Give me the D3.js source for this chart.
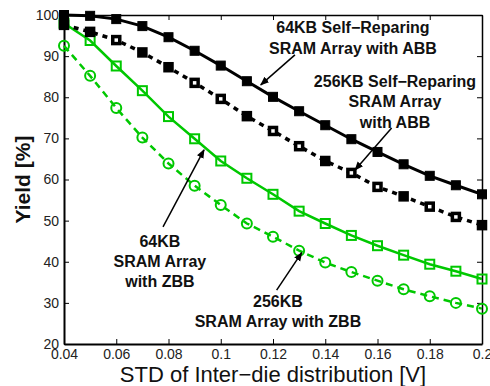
<!DOCTYPE html>
<html>
<head>
<meta charset="utf-8">
<script src="https://cdn.jsdelivr.net/npm/d3@7"></script>
<style>
  html, body { margin: 0; padding: 0; background: #fff; }
  svg { display: block; font-family: "Liberation Sans", Arial, Helvetica, sans-serif; }
</style>
</head>
<body>
<svg id="chart" width="490" height="386"></svg>
<script>
// Standard deviation of inter-die variation [V]
const stdValues = [0.04, 0.05, 0.06, 0.07, 0.08, 0.09, 0.10, 0.11, 0.12,
                   0.13, 0.14, 0.15, 0.16, 0.17, 0.18, 0.19, 0.20];

// Yield [%] per configuration
const yield64ABB  = [100, 99.8, 99.0, 97.3, 94.6, 91.3, 87.7, 83.9, 80.1,
                     76.6, 73.2, 69.8, 66.7, 63.7, 60.9, 58.6, 56.4];
const yield256ABB = [97.6, 95.9, 93.9, 90.9, 87.3, 83.5, 79.6, 75.4, 71.8,
                     68.1, 64.5, 61.6, 58.2, 55.9, 53.4, 50.9, 48.9];
const yield64ZBB  = [98.0, 93.8, 87.6, 81.6, 75.3, 69.9, 64.5, 60.3, 56.4,
                     52.3, 49.3, 46.4, 43.9, 41.6, 39.4, 37.7, 35.8];
const yield256ZBB = [92.5, 85.2, 77.4, 70.2, 63.9, 58.5, 53.8, 49.3, 46.1,
                     42.7, 39.8, 37.5, 35.4, 33.3, 31.6, 30.0, 28.6];

const xTicks = [0.04, 0.06, 0.08, 0.1, 0.12, 0.14, 0.16, 0.18, 0.2];
const yTicks = [20, 30, 40, 50, 60, 70, 80, 90, 100];

const GREEN = "#00c800";

const svg = d3.select("#chart");
const margin = { left: 64, right: 8, top: 15, bottom: 42 };
const W = 490, H = 386;

const x = d3.scaleLinear().domain([0.04, 0.2]).range([margin.left, W - margin.right]);
const y = d3.scaleLinear().domain([20, 100]).range([H - margin.bottom, margin.top]);

const fmt = d => String(+d.toFixed(2));

// Arrowhead marker
svg.append("defs").append("marker")
  .attr("id", "arrow")
  .attr("viewBox", "0 0 10 10")
  .attr("refX", 9).attr("refY", 5)
  .attr("markerWidth", 9).attr("markerHeight", 9)
  .attr("markerUnits", "userSpaceOnUse")
  .attr("orient", "auto")
  .append("path").attr("d", "M0,1 L10,5 L0,9 Z").attr("fill", "#000");

// Axes (ticks pointing inward, box on all sides)
const tickLen = 5;
const gx = svg.append("g").attr("transform", `translate(0,${y(20)})`)
  .call(d3.axisBottom(x).tickValues(xTicks).tickFormat(fmt).tickSizeInner(-tickLen).tickSizeOuter(0).tickPadding(5));
const gy = svg.append("g").attr("transform", `translate(${x(0.04)},0)`)
  .call(d3.axisLeft(y).tickValues(yTicks).tickSizeInner(-tickLen).tickSizeOuter(0).tickPadding(5));
const gxt = svg.append("g").attr("transform", `translate(0,${y(100)})`)
  .call(d3.axisTop(x).tickValues(xTicks).tickFormat("").tickSizeInner(-tickLen).tickSizeOuter(0));
const gyr = svg.append("g").attr("transform", `translate(${x(0.2)},0)`)
  .call(d3.axisRight(y).tickValues(yTicks).tickFormat("").tickSizeInner(-tickLen).tickSizeOuter(0));

[gx, gy].forEach(g => {
  g.select(".domain").attr("stroke", "#000").attr("stroke-width", 2);
  g.selectAll(".tick line").attr("stroke", "#000").attr("stroke-width", 1);
  g.selectAll(".tick text").attr("fill", "#222").attr("font-size", 14);
});
[gxt, gyr].forEach(g => {
  g.select(".domain").attr("stroke", "#000").attr("stroke-width", 1.5);
  g.selectAll(".tick line").attr("stroke", "#000").attr("stroke-width", 1);
});

// Series
const series = [
  { values: yield64ZBB,  color: GREEN, width: 2.5, dash: null,  marker: "hsquare" },
  { values: yield256ZBB, color: GREEN, width: 2.5, dash: "7,5", marker: "circle" },
  { values: yield256ABB, color: "#000", width: 3.5, dash: "5,5", marker: "dsquare" },
  { values: yield64ABB,  color: "#000", width: 3,   dash: null,  marker: "fsquare" }
];

const line = d3.line().x(d => x(d[0])).y(d => y(d[1]));

// dotted-edge squares: where the dash pattern falls on a gap the marker keeps a small open centre
const solidDotted = new Set([0, 1, 3, 4, 7, 10, 13, 16]);

series.forEach(s => {
  const pts = stdValues.map((v, i) => [v, s.values[i]]);
  svg.append("path")
    .datum(pts)
    .attr("d", line)
    .attr("fill", "none")
    .attr("stroke", s.color)
    .attr("stroke-width", s.width)
    .attr("stroke-dasharray", s.dash);

  const g = svg.append("g");
  if (s.marker === "circle") {
    g.selectAll("circle").data(pts).join("circle")
      .attr("cx", d => x(d[0])).attr("cy", d => y(d[1])).attr("r", 5)
      .attr("fill", "none").attr("stroke", s.color).attr("stroke-width", 2);
  } else if (s.marker === "hsquare") {
    g.selectAll("rect").data(pts).join("rect")
      .attr("x", d => x(d[0]) - 4.5).attr("y", d => y(d[1]) - 4.5)
      .attr("width", 9).attr("height", 9)
      .attr("fill", "none").attr("stroke", s.color).attr("stroke-width", 2);
  } else if (s.marker === "dsquare") {
    g.selectAll("rect").data(pts).join("rect")
      .attr("x", d => x(d[0]) - 3.5).attr("y", d => y(d[1]) - 3.5)
      .attr("width", 7).attr("height", 7)
      .attr("fill", (d, i) => solidDotted.has(i) ? s.color : "#fff")
      .attr("stroke", s.color).attr("stroke-width", 3.5);
  } else {
    g.selectAll("rect").data(pts).join("rect")
      .attr("x", d => x(d[0]) - 4.5).attr("y", d => y(d[1]) - 4.5)
      .attr("width", 9).attr("height", 9)
      .attr("fill", s.color).attr("stroke", s.color).attr("stroke-width", 1);
  }
});

// Annotations (positions in data units)
const notes = [
  { lines: ["64KB Self\u2212Reparing", "SRAM Array with ABB"], at: [0.1506, 95.6], step: 21,
    arrow: [[0.1284, 90.3], [0.1153, 83.0]] },
  { lines: ["256KB Self\u2212Reparing", "SRAM Array", "with ABB"], at: [0.1667, 82.5], step: 20.3,
    arrow: [[0.1654, 72.5], [0.1514, 62.3]] },
  { lines: ["64KB", "SRAM Array", "with ZBB"], at: [0.0767, 43.7], step: 20,
    arrow: [[0.0779, 48.5], [0.0936, 67.2]] },
  { lines: ["256KB", "SRAM Array with ZBB"], at: [0.1219, 29.1], step: 20,
    arrow: [[0.1214, 33.1], [0.1310, 42.2]] }
];

notes.forEach(n => {
  svg.append("line")
    .attr("x1", x(n.arrow[0][0])).attr("y1", y(n.arrow[0][1]))
    .attr("x2", x(n.arrow[1][0])).attr("y2", y(n.arrow[1][1]))
    .attr("stroke", "#000").attr("stroke-width", 1.5)
    .attr("marker-end", "url(#arrow)");
  const t = svg.append("text")
    .attr("text-anchor", "middle")
    .attr("font-weight", "bold")
    .attr("font-size", 16)
    .attr("fill", "#111");
  n.lines.forEach((s, i) => {
    t.append("tspan").attr("x", x(n.at[0])).attr("y", y(n.at[1]) + i * n.step).text(s);
  });
});

// Axis titles
svg.append("text")
  .attr("x", (x(0.04) + x(0.2)) / 2).attr("y", 382)
  .attr("text-anchor", "middle")
  .attr("font-size", 22)
  .attr("fill", "#111")
  .text("STD of Inter\u2212die distribution [V]");

svg.append("text")
  .attr("transform", `translate(30,${(y(20) + y(100)) / 2}) rotate(-90)`)
  .attr("text-anchor", "middle")
  .attr("font-size", 21)
  .attr("font-weight", "bold")
  .attr("fill", "#111")
  .text("Yield [%]");
</script>
</body>
</html>
